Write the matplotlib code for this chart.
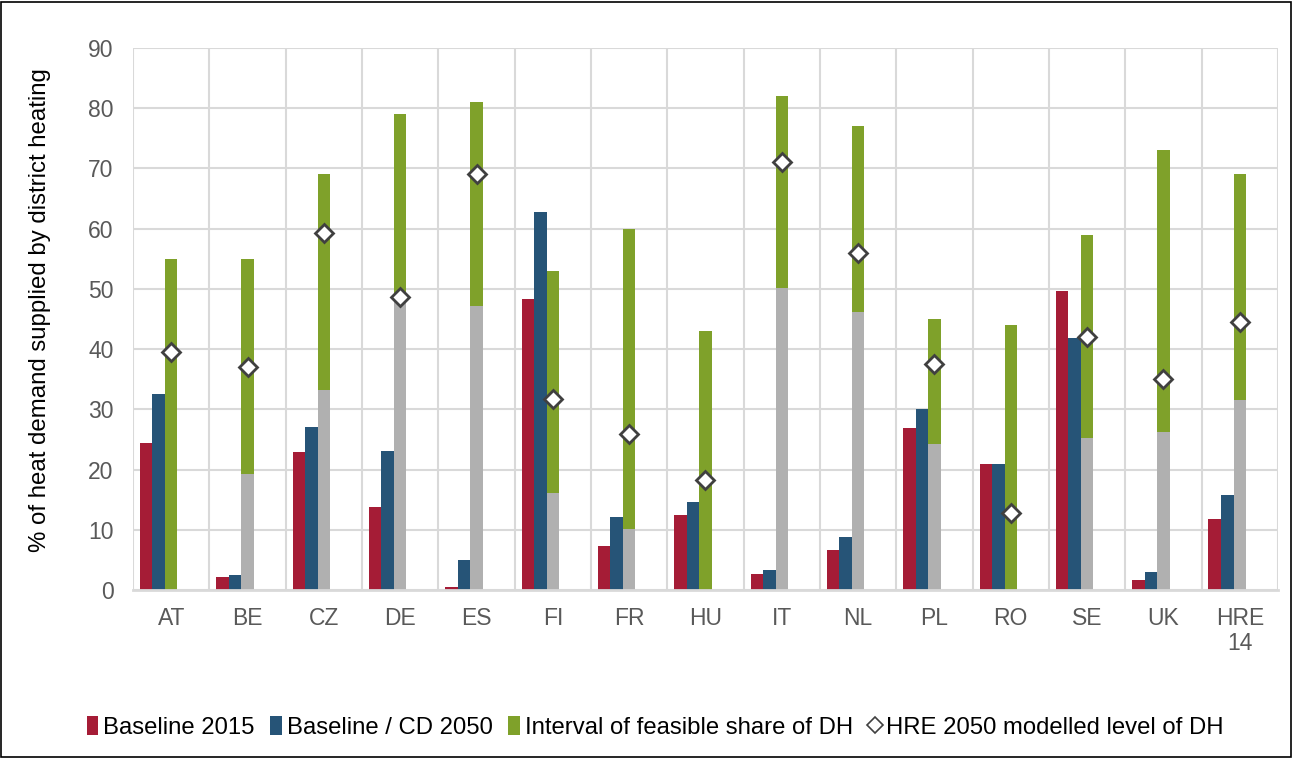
import numpy as np
import matplotlib
matplotlib.use("Agg")
import matplotlib.pyplot as plt
from matplotlib.patches import Patch, Rectangle
from matplotlib.lines import Line2D

plt.rcParams['font.family'] = ['Liberation Sans', 'DejaVu Sans']

# data
countries = ['AT', 'BE', 'CZ', 'DE', 'ES', 'FI', 'FR', 'HU', 'IT', 'NL', 'PL', 'RO', 'SE', 'UK', 'HRE\n14']
baseline_2015 = [24.4, 2.1, 23.0, 13.8, 0.5, 48.3, 7.3, 12.5, 2.7, 6.6, 26.9, 21.0, 49.6, 1.6, 11.8]
baseline_2050 = [32.5, 2.5, 27.0, 23.1, 5.0, 62.8, 12.1, 14.6, 3.3, 8.8, 30.1, 21.0, 41.8, 3.0, 15.7]
feasible_low = [0.0, 19.3, 33.2, 48.7, 47.2, 16.1, 10.1, 0.0, 50.2, 46.2, 24.3, 0.0, 25.2, 26.2, 31.5]
feasible_high = [55.0, 55.0, 69.0, 79.0, 81.0, 53.0, 60.0, 43.0, 82.0, 77.0, 45.0, 44.0, 59.0, 73.0, 69.0]
hre_2050 = [39.5, 37.0, 59.3, 48.7, 69.0, 31.7, 25.9, 18.3, 71.0, 56.0, 37.5, 12.8, 42.0, 35.0, 44.5]

RED = '#A51C36'
BLUE = '#265477'
GREEN = '#7FA12A'
GRAY = '#B0B0B0'
GRID = '#D9D9D9'
TXT = '#595959'

x = np.arange(len(countries))
w = 0.164
low = np.array(feasible_low)
high = np.array(feasible_high)

fig = plt.figure(figsize=(12.94, 7.58), dpi=100)
ax = fig.add_axes([0.1028, 0.2216, 0.8848, 0.7151])

ax.bar(x - 2 * w, baseline_2015, w, color=RED, zorder=3)
ax.bar(x - w, baseline_2050, w, color=BLUE, zorder=3)
ax.bar(x, low, w, color=GRAY, zorder=3)
ax.bar(x, high - low, w, bottom=low, color=GREEN, zorder=3)
ax.plot(x, hre_2050, linestyle='none', marker='D', markersize=9.5,
        markerfacecolor='white', markeredgecolor='#404040', markeredgewidth=2, zorder=5)

ax.set_xlim(-0.5, len(countries) - 0.5)
ax.set_ylim(0, 90)
ax.set_yticks(np.arange(0, 91, 10))
ax.set_xticks(x)
ax.set_xticklabels(countries)
ax.set_xticks(np.arange(-0.5, len(countries), 1), minor=True)

ax.grid(axis='y', which='major', color=GRID, linewidth=1.5, zorder=0)
ax.grid(axis='x', which='minor', color=GRID, linewidth=1.5, zorder=0)
ax.set_axisbelow(True)
for s in ['top', 'right', 'left']:
    ax.spines[s].set_visible(False)
ax.spines['bottom'].set_color(GRID)
ax.spines['bottom'].set_linewidth(2)
ax.spines['bottom'].set_zorder(4)

ax.tick_params(axis='both', which='both', length=0, labelsize=16.5, labelcolor=TXT)
ax.tick_params(axis='x', pad=12)
ax.tick_params(axis='y', pad=14)
for t in ax.get_xticklabels():
    t.set_linespacing(1.15)
    t.set_verticalalignment('top')

fig.text(0.031, 0.591, '% of heat demand supplied by district heating',
         rotation=90, ha='center', va='center', fontsize=17.3, color='black')

handles = [
    Patch(facecolor=RED, label='Baseline 2015'),
    Patch(facecolor=BLUE, label='Baseline / CD 2050'),
    Patch(facecolor=GREEN, label='Interval of feasible share of DH'),
    Line2D([], [], linestyle='none', marker='D', markersize=8, markerfacecolor='white',
           markeredgecolor='#404040', markeredgewidth=1.2, label='HRE 2050 modelled level of DH'),
]
fig.legend(handles=handles, loc='center', bbox_to_anchor=(0.506, 0.04), ncol=4,
           frameon=False, fontsize=17.2, handlelength=0.5, handleheight=0.85,
           handletextpad=0.2, columnspacing=0.65)

# frame around whole picture
fig.patches.append(Rectangle((0.001, 0.001), 0.997, 0.997, transform=fig.transFigure,
                             fill=False, edgecolor='black', linewidth=1.2))

fig.savefig('out.png', dpi=100)
